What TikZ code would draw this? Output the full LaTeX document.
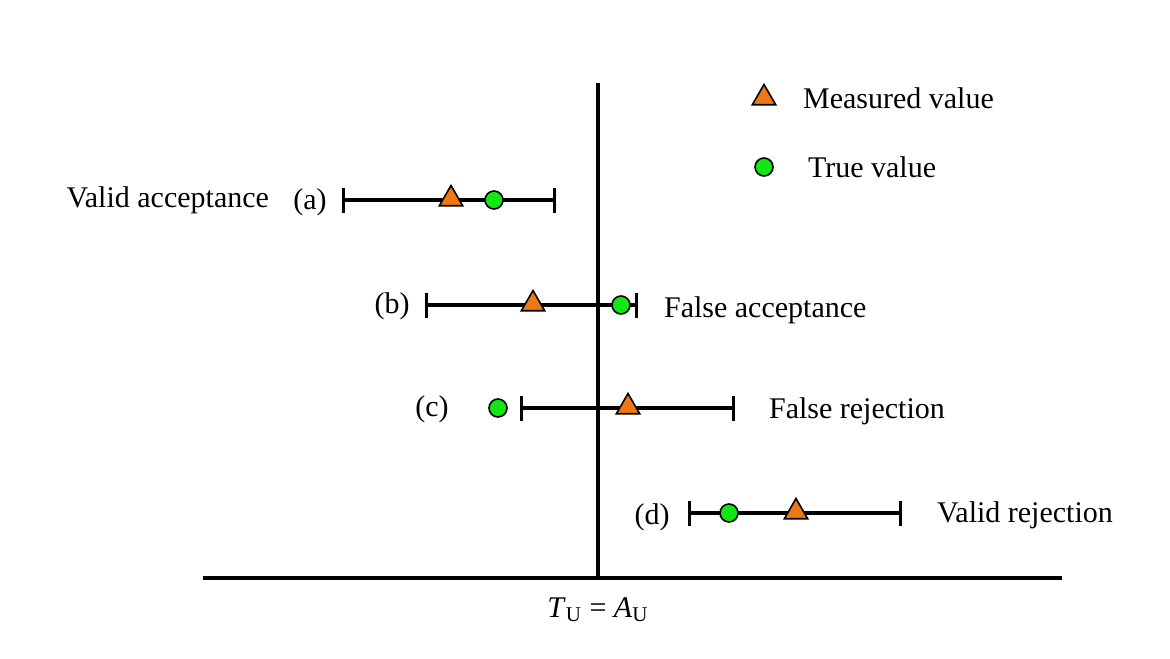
\documentclass[tikz,border=0pt]{standalone}
\usepackage{fontspec}
\setmainfont{Liberation Serif}
\usepackage{tikz}
\usetikzlibrary{positioning, arrows.meta, shapes.geometric}
\definecolor{markOrange}{RGB}{240, 120, 20}
\definecolor{markGreen}{RGB}{20, 230, 20}
\tikzset{
  measured/.style={
    regular polygon,
    regular polygon sides=3,
    draw=black,
    thick,
    fill=markOrange,
    minimum size=13.5pt,
    inner sep=0pt
  },
  truemark/.style={
    circle,
    draw=black,
    thick,
    fill=markGreen,
    minimum size=9pt,
    inner sep=0pt
  },
  rangebar/.style={
    line width=1.6pt,
    {Bar[width=12.5pt,line width=1.6pt]}-{Bar[width=12.5pt,line width=1.6pt]}
  },
  caseText/.style={
    font=\fontsize{15}{18}\selectfont
  }
}

\begin{document}
\begin{tikzpicture}[x=0.5pt, y=-0.5pt]
  \useasboundingbox (0, 0) rectangle (1170, 658);
  % Axes
  \coordinate (vtop) at (598, 83);
  \coordinate (vbot) at (598, 578);
  \coordinate (hleft) at (203, 578);
  \coordinate (hright) at (1062, 578);
  \draw[line width=1.6pt] (vtop) -- (vbot);
  \draw[line width=1.6pt] (hleft) -- (hright);
  \node[caseText] (limit) at (598, 610) {\textit{T}\textsubscript{U} = \textit{A}\textsubscript{U}};

  % Legend
  \node[measured] (legM) at (764, 98) {};
  \node[caseText, anchor=west] (legMtext) at (796, 98) {Measured value};
  \node[truemark] (legT) at (764, 167) {};
  \node[caseText, anchor=west] (legTtext) at (801, 167) {True value};

  % Case (a)
  \coordinate (aL) at (342, 200);
  \coordinate (aR) at (556, 200);
  \draw[rangebar] (aL) -- (aR);
  \node[measured] (aM) at (451, 199) {};
  \node[truemark] (aT) at (494, 200) {};
  \node[caseText] (aLab) at (310, 202) {(a)};
  \node[caseText, anchor=east] (aText) at (276, 200) {Valid acceptance};

  % Case (b)
  \coordinate (bL) at (425, 305);
  \coordinate (bR) at (638, 305);
  \draw[rangebar] (bL) -- (bR);
  \node[measured] (bM) at (533, 304) {};
  \node[truemark] (bT) at (621, 305) {};
  \node[caseText] (bLab) at (392, 306) {(b)};
  \node[caseText, anchor=west] (bText) at (657, 310) {False acceptance};

  % Case (c)
  \coordinate (cL) at (520, 408);
  \coordinate (cR) at (735, 408);
  \draw[rangebar] (cL) -- (cR);
  \node[measured] (cM) at (628, 407) {};
  \node[truemark] (cT) at (498, 408) {};
  \node[caseText] (cLab) at (432, 409) {(c)};
  \node[caseText, anchor=west] (cText) at (762, 411) {False rejection};

  % Case (d)
  \coordinate (dL) at (688, 513);
  \coordinate (dR) at (902, 513);
  \draw[rangebar] (dL) -- (dR);
  \node[measured] (dM) at (796, 512) {};
  \node[truemark] (dT) at (729, 513) {};
  \node[caseText] (dLab) at (652, 517) {(d)};
  \node[caseText, anchor=west] (dText) at (930, 515) {Valid rejection};
\end{tikzpicture}
\end{document}
